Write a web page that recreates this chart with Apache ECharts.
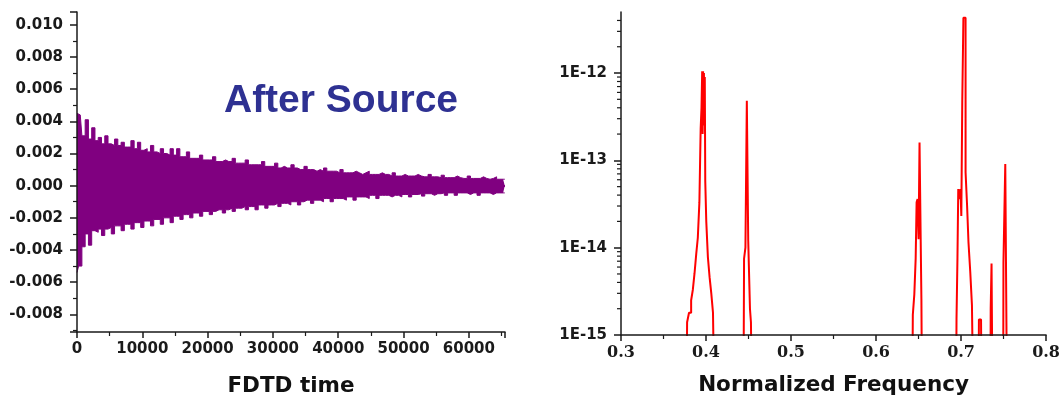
<!DOCTYPE html>
<html><head><meta charset="utf-8">
<script src="https://cdn.jsdelivr.net/npm/echarts@6/dist/echarts.min.js"></script>
<style>html,body{margin:0;padding:0;background:#fff}#c{width:1063px;height:402px}</style>
</head><body><div id="c"></div>
<script>
// ---- Left panel: FDTD time signal (envelope of the dense oscillation, sampled every 500 steps)
const timeStep = 500;
const upperEnvelope = [
0.0045,0.0044,0.0031,0.0041,0.0029,0.0036,0.0028,0.0030,0.0026,0.0031,
0.0026,0.0025,0.0029,0.0025,0.0027,0.0024,0.0024,0.0028,0.0023,0.0027,
0.0022,0.0023,0.0021,0.0025,0.0021,0.0020,0.0023,0.0020,0.0019,0.0023,
0.0019,0.0023,0.0018,0.0018,0.0021,0.0017,0.0017,0.0017,0.0019,0.0016,
0.0016,0.0016,0.0018,0.0015,0.0015,0.0016,0.0015,0.0015,0.0017,0.0014,
0.0014,0.0014,0.0016,0.0013,0.0013,0.0013,0.0013,0.0015,0.0012,0.0012,
0.0012,0.0014,0.0011,0.0012,0.0011,0.0011,0.0013,0.0011,0.0010,0.0010,
0.0012,0.0010,0.0010,0.0009,0.0010,0.0009,0.0011,0.0009,0.0009,0.0009,
0.0008,0.0010,0.0008,0.0008,0.0008,0.0009,0.0008,0.0007,0.0008,0.0009,
0.0007,0.0007,0.0007,0.0008,0.0007,0.0007,0.0006,0.0008,0.0006,0.0006,
0.0007,0.0006,0.0006,0.0006,0.0007,0.0006,0.00055,0.00055,0.0007,0.00055,
0.00055,0.0005,0.00065,0.0005,0.0005,0.0005,0.0006,0.0005,0.00045,0.00045,
0.0006,0.00045,0.00045,0.00045,0.00055,0.00045,0.0004,0.00045,0.00055,0.0004,
0.0004,0.0004];
const lowerEnvelope = [
-0.0054,-0.0050,-0.0038,-0.0030,-0.0037,-0.0028,-0.0029,-0.0027,-0.0031,-0.0027,
-0.0026,-0.0030,-0.0025,-0.0025,-0.0028,-0.0024,-0.0024,-0.0027,-0.0023,-0.0023,
-0.0026,-0.0022,-0.0022,-0.0025,-0.0021,-0.0021,-0.0024,-0.0020,-0.0020,-0.0023,
-0.0019,-0.0019,-0.0021,-0.0018,-0.0018,-0.0020,-0.0017,-0.0017,-0.0019,-0.0016,
-0.0016,-0.0018,-0.0016,-0.0015,-0.0015,-0.0017,-0.0015,-0.0014,-0.0016,-0.0014,
-0.0014,-0.0013,-0.0015,-0.0013,-0.0013,-0.0015,-0.0012,-0.0012,-0.0014,-0.0012,
-0.0012,-0.0011,-0.0013,-0.0011,-0.0011,-0.0012,-0.0010,-0.0010,-0.0012,-0.0010,
-0.0009,-0.0009,-0.0011,-0.0009,-0.0009,-0.0010,-0.0008,-0.0008,-0.0010,-0.0008,
-0.0008,-0.0008,-0.0009,-0.0007,-0.0007,-0.0009,-0.0007,-0.0007,-0.0007,-0.0008,
-0.0006,-0.0006,-0.0008,-0.0006,-0.0006,-0.0006,-0.0007,-0.0006,-0.0006,-0.0007,
-0.00055,-0.00055,-0.0007,-0.00055,-0.00055,-0.0005,-0.00065,-0.0005,-0.0005,-0.0006,
-0.0005,-0.0005,-0.00045,-0.0006,-0.00045,-0.00045,-0.0006,-0.00045,-0.00045,-0.00045,
-0.00055,-0.00045,-0.00045,-0.0006,-0.00045,-0.00045,-0.00045,-0.00055,-0.00045,-0.00045,
-0.00045,-0.00045];
const timeMax = 65536;

// ---- Right panel: spectrum (values below 1E-15 fall off the bottom of the axis)
const freq = [
0.3000,0.3770,0.3785,0.3815,0.3835,0.3855,0.3875,0.3895,0.3912,0.3932,
0.3942,0.3952,0.3958,0.3963,0.3968,0.3973,0.3978,0.3983,0.3988,0.3994,
0.4012,0.4032,0.4052,0.4072,0.4092,0.4110,
0.4440,0.4455,0.4472,0.4488,0.4493,0.4500,0.4512,0.4522,0.4535,0.4548,
0.6425,0.6440,0.6460,0.6472,0.6482,0.6495,0.6505,0.6518,0.6530,0.6537,0.6548,
0.6940,0.6953,0.6962,0.6972,0.6988,0.6998,0.7008,0.7020,0.7035,0.7050,
0.7056,0.7066,0.7076,0.7098,0.7118,0.7138,0.7155,
0.7205,0.7215,0.7235,0.7250,
0.7345,0.7352,0.7365,0.7378,
0.7495,0.7502,0.7515,0.7525,0.7538,0.7546,0.8000];
const power = [
1e-16,1e-16,1.4e-15,1.8e-15,2.5e-15,3.3e-15,5.1e-15,8.5e-15,1.3e-14,3.3e-14,
2.3e-13,4e-13,1.05e-12,2e-13,1.05e-12,3e-13,1.0e-12,2.5e-13,9e-13,5.8e-14,
2.0e-14,7.8e-15,4.6e-15,3.0e-15,1.8e-15,1e-16,
1e-16,7.5e-15,1.0e-14,4.8e-13,4.8e-13,1.2e-14,1.2e-14,2.0e-15,1.4e-15,1e-16,
1e-16,1.7e-15,2.9e-15,7.5e-15,3.3e-14,3.6e-14,1.25e-14,1.6e-13,1.6e-13,2.6e-15,1e-16,
1e-16,1.55e-15,7.5e-15,4.7e-14,3.6e-14,4.7e-14,2.3e-14,4.6e-13,4.3e-12,4.3e-12,
7.3e-14,7.5e-14,3.0e-14,1.16e-14,5.3e-15,2.2e-15,1e-16,
1e-16,1.5e-15,1.5e-15,1e-16,
1e-16,2.0e-15,6.6e-15,1e-16,
1e-16,6.8e-15,6.8e-15,9.1e-14,9.1e-14,1e-16,1e-16];
const logMinorTickValues = [
2e-15,3e-15,4e-15,5e-15,6e-15,7e-15,8e-15,9e-15,
2e-14,3e-14,4e-14,5e-14,6e-14,7e-14,8e-14,9e-14,
2e-13,3e-13,4e-13,5e-13,6e-13,7e-13,8e-13,9e-13,
2e-12,3e-12,4e-12];

const times = upperEnvelope.map((_, i) => i * timeStep);
const ink = '#1a1a1a';
const purple = '#800080';
const sansBold = {fontFamily:'DejaVu Sans', fontWeight:'bold', color: ink};

const chart = echarts.init(document.getElementById('c'), null, {renderer:'canvas'});
chart.setOption({
  animation:false,
  backgroundColor:'#fff',
  graphic:[{type:'text', x:341, y:101, z:10,
    style:{text:'After Source', font:'bold 39px "Liberation Sans"', fill:'#2e3192',
      textAlign:'center', textVerticalAlign:'middle', align:'center', verticalAlign:'middle'}}],
  grid:[
    {left:77, top:12, width:428, height:325},
    {left:621, top:12, width:426, height:323}
  ],
  xAxis:[
    {type:'value', gridIndex:0, min:0, max:timeMax, interval:10000, z:10,
     axisLine:{onZero:false, lineStyle:{color:ink, width:1.5}},
     axisTick:{length:6, lineStyle:{color:ink, width:1.5}},
     minorTick:{show:true, splitNumber:2, length:4, lineStyle:{color:ink, width:1.2}},
     splitLine:{show:false},
     axisLabel:{...sansBold, fontSize:15, margin:10, showMaxLabel:false, formatter:v => String(Math.round(v))},
     name:'FDTD time', nameLocation:'middle', nameGap:43,
     nameTextStyle:{...sansBold, fontSize:21.5, color:'#111'}},
    {type:'value', gridIndex:1, min:0.3, max:0.8, interval:0.1, z:10,
     axisLine:{onZero:false, lineStyle:{color:ink, width:1.5}},
     axisTick:{length:6, lineStyle:{color:ink, width:1.5}},
     minorTick:{show:true, splitNumber:2, length:4, lineStyle:{color:ink, width:1.2}},
     splitLine:{show:false},
     axisLabel:{fontFamily:'DejaVu Serif', fontWeight:'bold', color:ink, fontSize:16, margin:10,
       formatter:v => v.toFixed(1)},
     name:'Normalized Frequency', nameLocation:'middle', nameGap:39,
     nameTextStyle:{...sansBold, fontSize:21.5, color:'#111'}}
  ],
  yAxis:[
    {type:'value', gridIndex:0, min:-0.0091, max:0.0108, splitNumber:10, z:10,
     axisLine:{show:true, onZero:false, lineStyle:{color:ink, width:1.5}},
     axisTick:{show:true, length:7, lineStyle:{color:ink, width:1.5}},
     minorTick:{show:true, splitNumber:2, length:4, lineStyle:{color:ink, width:1.2}},
     splitLine:{show:false},
     axisLabel:{...sansBold, fontSize:15, margin:14, showMinLabel:false, showMaxLabel:false,
       formatter:v => v.toFixed(3)}},
    {type:'log', gridIndex:1, min:1e-15, max:5e-12, logBase:10, z:10,
     axisLine:{show:true, onZero:false, lineStyle:{color:ink, width:1.5}},
     axisTick:{show:true, length:7, lineStyle:{color:ink, width:1.5}},
     splitLine:{show:false},
     axisLabel:{...sansBold, fontSize:15, margin:14, showMaxLabel:false,
       formatter:v => {const e = Math.log10(v); return Math.abs(e - Math.round(e)) < 1e-6 ? '1E' + Math.round(e) : '';}}}
  ],
  series:[
    {type:'line', xAxisIndex:0, yAxisIndex:0, step:'middle', symbol:'none', silent:true,
     data: times.map((t, i) => [t, upperEnvelope[i]]),
     lineStyle:{color:purple, width:1}, areaStyle:{color:purple, opacity:1},
     markLine:{silent:true, symbol:'none', label:{show:false},
       lineStyle:{color:purple, width:2, type:'solid'}, data:[{yAxis:0}]}},
    {type:'line', xAxisIndex:0, yAxisIndex:0, step:'middle', symbol:'none', silent:true,
     data: times.map((t, i) => [t, lowerEnvelope[i]]),
     lineStyle:{color:purple, width:1}, areaStyle:{color:purple, opacity:1}},
    {type:'line', xAxisIndex:1, yAxisIndex:1, step:'middle', symbol:'none', silent:true, clip:true,
     data: freq.map((f, i) => [f, power[i]]),
     lineStyle:{color:'#ff0000', width:2}},
    {type:'custom', xAxisIndex:1, yAxisIndex:1, silent:true, clip:false,
     data: logMinorTickValues.map(v => [0.3, v]),
     renderItem:(params, api) => {
       const p = api.coord([api.value(0), api.value(1)]);
       return {type:'line', shape:{x1:p[0] - 4, y1:p[1], x2:p[0], y2:p[1]},
         style:{stroke:ink, lineWidth:1.2}};
     }}
  ]
});
</script></body></html>
